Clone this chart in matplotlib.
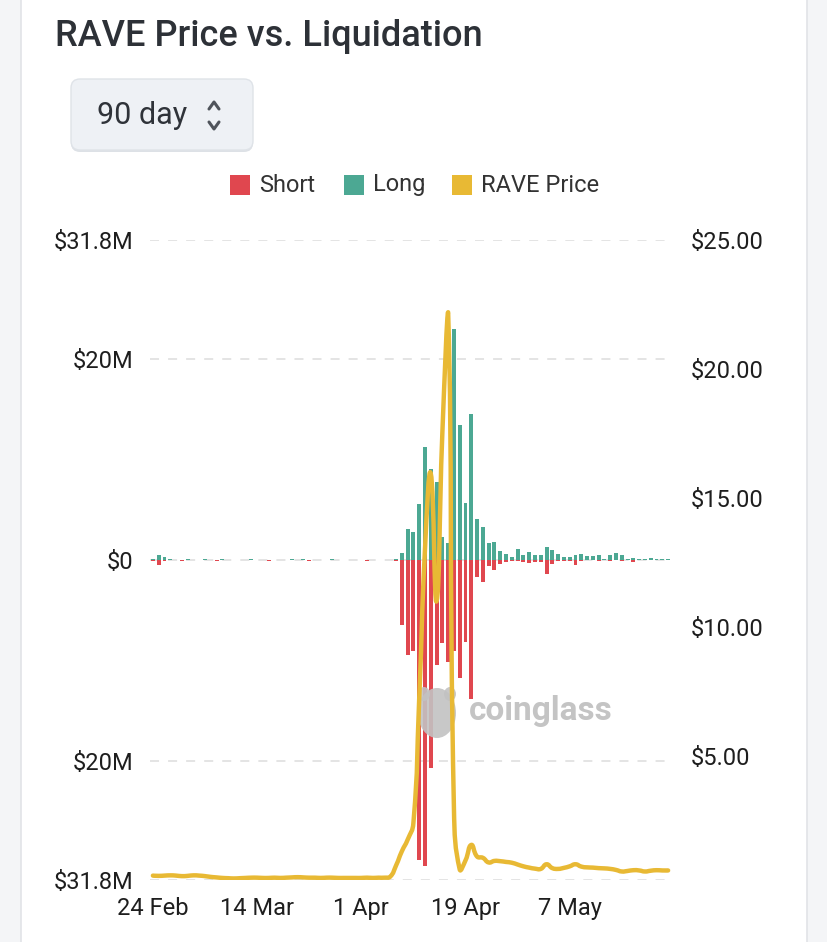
import matplotlib
matplotlib.use("Agg")
import matplotlib.pyplot as plt
from matplotlib.patches import Rectangle, FancyBboxPatch, PathPatch, Ellipse
from matplotlib.path import Path
from matplotlib.lines import Line2D
from matplotlib.transforms import IdentityTransform
import numpy as np
import pandas as pd

plt.rcParams['font.family'] = ['Roboto', 'DejaVu Sans']

# ---- data (liquidations in $M, price in $) ----
days = pd.date_range("2026-02-24", periods=90, freq="D")

long_liq = [0.1, 0.5, 0.3, 0.1,
            0.02, 0.02, 0.05, 0.02, 0.02, 0.08, 0.02, 0.02, 0.12, 0.02,
            0.02, 0.02, 0.02, 0.08, 0.02, 0.02, 0.02, 0.02, 0.02, 0.02,
            0.08, 0.02, 0.12, 0.02, 0.02, 0.02, 0.02, 0.08, 0.02, 0.02,
            0.02, 0.02, 0.02, 0.02, 0.02, 0.02, 0.02, 0.02, 0.08,
            0.7, 3.1, 2.8, 5.6, 11.2, 9.0, 7.8, 2.3, 1.7, 23.0,
            13.4, 5.7, 14.5, 4.1, 3.3, 1.7, 1.8, 0.9, 0.6, 0.25,
            1.1, 0.5, 0.8, 0.5, 0.5, 1.3, 1.0, 0.6, 0.25, 0.25,
            0.45, 0.6, 0.4, 0.35, 0.45, 0.05, 0.5, 0.7, 0.5, 0.1,
            0.15, 0.1, 0.1, 0.15, 0.1, 0.1, 0.1]

short_liq = [0.05, 0.5, 0.1, 0.03,
             0.02, 0.06, 0.02, 0.02, 0.02, 0.02, 0.02, 0.06, 0.02, 0.02,
             0.02, 0.02, 0.02, 0.02, 0.02, 0.02, 0.06, 0.02, 0.02, 0.02,
             0.02, 0.02, 0.02, 0.06, 0.02, 0.02, 0.02, 0.02, 0.02, 0.02,
             0.02, 0.02, 0.02, 0.1, 0.02, 0.02, 0.02, 0.02, 0.06,
             6.5, 9.4, 9.0, 29.8, 30.4, 20.7, 10.4, 8.2, 10.1, 9.0,
             11.7, 8.1, 13.8, 1.7, 2.2, 0.6, 1.0, 0.4, 0.2, 0.1,
             0.1, 0.15, 0.3, 0.15, 0.15, 1.4, 0.4, 0.1, 0.1, 0.1,
             0.5, 0.1, 0.03, 0.03, 0.08, 0.03, 0.08, 0.03, 0.08, 0.03,
             0.2, 0.03, 0.03, 0.03, 0.03, 0.03, 0.03]

price = [0.36, 0.35, 0.36, 0.37, 0.36, 0.34, 0.35, 0.37, 0.36, 0.34,
         0.31, 0.29, 0.27, 0.26, 0.25, 0.26, 0.27, 0.28, 0.28, 0.27,
         0.27, 0.28, 0.27, 0.28, 0.29, 0.30, 0.29, 0.28, 0.28, 0.27,
         0.28, 0.28, 0.27, 0.27, 0.27, 0.27, 0.27, 0.28, 0.27, 0.28,
         0.28, 0.32, 0.75, 1.30, 1.75, 2.40, 7.20, 13.0, 15.95, 11.0,
         17.5, 22.2, 3.0, 0.60, 0.95, 1.55, 1.10, 1.05, 0.87, 0.93,
         0.92, 0.89, 0.86, 0.79, 0.72, 0.67, 0.63, 0.62, 0.80, 0.65,
         0.62, 0.66, 0.72, 0.80, 0.71, 0.68, 0.67, 0.65, 0.64, 0.62,
         0.58, 0.52, 0.54, 0.57, 0.56, 0.52, 0.55, 0.57, 0.56, 0.56]

left_ticks = [-31.8, -20, 0, 20, 31.8]
left_labels = ["$31.8M", "$20M", "$0", "$20M", "$31.8M"]
right_ticks = [5, 10, 15, 20, 25]
right_labels = ["$5.00", "$10.00", "$15.00", "$20.00", "$25.00"]

RED = "#e0474f"
GREEN = "#4ca893"
YELLOW = "#e8b934"
TXT = "#1e1e1e"

W, H = 828, 942
fig = plt.figure(figsize=(W / 100, H / 100), dpi=100, facecolor="#f4f5f7")
PX = IdentityTransform()


def P(x, y):
    # image pixel coords (y down) -> display coords
    return x, H - y


# white card (behind everything)
fig.patches.append(Rectangle(P(21, 945), 786, 950, transform=PX,
                             facecolor="white", edgecolor="#e1e3e7", lw=1.2, zorder=-10))

# title
fig.text(*P(55, 36), "RAVE Price vs. Liquidation", transform=PX, fontsize=26,
         fontweight="medium", color="#2d3137", va="center", ha="left")

# range selector
fig.patches.append(FancyBboxPatch(P(71, 152), 182, 71, boxstyle="round,pad=0,rounding_size=9",
                                  transform=PX, facecolor="#dde1e6", edgecolor="none", zorder=1))
fig.patches.append(FancyBboxPatch(P(71, 150), 182, 71, boxstyle="round,pad=0,rounding_size=9",
                                  transform=PX, facecolor="#eef1f5", edgecolor="#dfe3e8", lw=1, zorder=2))
fig.text(*P(97, 116), "90 day", transform=PX, fontsize=22, color="#2f3339",
         va="center", ha="left", zorder=3)
for ys in [(109, 102, 109), (122, 129, 122)]:
    xs = [209, 214, 219]
    pts = [P(a, b) for a, b in zip(xs, ys)]
    fig.lines.append(Line2D([p[0] for p in pts], [p[1] for p in pts], transform=PX,
                            color="#4f545b", lw=2.2, solid_capstyle="round", zorder=3))

# legend
for x0, col, lab in [(230, RED, "Short"), (344, GREEN, "Long"), (452, YELLOW, "RAVE Price")]:
    fig.patches.append(Rectangle(P(x0, 195), 20, 20, transform=PX, facecolor=col,
                                 edgecolor="none", zorder=2))
    fig.text(*P(x0 + 29, 185), lab, transform=PX, fontsize=17, color="#333333",
             va="center", ha="left")

# ---- plot ----
ax = fig.add_axes([150 / W, 1 - 880 / H, 521 / W, 640 / H])
ax.set_facecolor("none")
x = np.arange(len(days))
ax.bar(x, long_liq, width=0.68, color=GREEN, zorder=2)
ax.bar(x, -np.array(short_liq), width=0.68, color=RED, zorder=2)
ax.set_xlim(-0.5, len(days) - 0.5)
ax.set_ylim(-31.8, 31.8)
for t in left_ticks:
    ax.axhline(t, color="#e2e2e2", lw=1.3, ls=(0, (5, 5)), zorder=0)
ax.set_yticks(left_ticks, left_labels)
tick_idx = np.arange(0, len(days), 18)
ax.set_xticks(tick_idx, [f"{days[i].day} {days[i].strftime('%b')}" for i in tick_idx])
ax.tick_params(axis="y", length=0, pad=12, labelsize=17, labelcolor=TXT)
ax.tick_params(axis="x", length=0, pad=12, labelsize=17, labelcolor=TXT)
for s in ax.spines.values():
    s.set_visible(False)

# watermark
ax.add_patch(Ellipse(P(437, 713), 38, 50, transform=PX, facecolor="#c2c2c2",
                     edgecolor="none", alpha=0.9, zorder=5, clip_on=False))
for ex in (424, 450):
    ax.add_patch(Ellipse(P(ex, 694), 12, 14, transform=PX, facecolor="#c2c2c2",
                         edgecolor="none", alpha=0.9, zorder=5, clip_on=False))
ax.text(*P(469, 711), "coinglass", transform=PX, fontsize=24, fontweight="bold",
        color="#c4c4c4", va="center", ha="left", zorder=5)

ax2 = ax.twinx()
ax2.set_ylim(0.19, 25)
ax2.set_yticks(right_ticks, right_labels)
ax2.tick_params(axis="y", length=0, pad=14, labelsize=17, labelcolor=TXT)
for s in ax2.spines.values():
    s.set_visible(False)

# smoothed price line (bezier through daily points, like the web chart;
# control points kept inside the data's overall range)
pts = ax2.transData.transform(np.column_stack([x, price]))
ylo, yhi = pts[:, 1].min(), pts[:, 1].max()
n = len(pts)
cp_in = pts.copy()
cp_out = pts.copy()
for i in range(1, n - 1):
    v = (pts[i + 1] - pts[i - 1]) * 0.5
    d0 = np.hypot(*(pts[i] - pts[i - 1]))
    d1 = np.hypot(*(pts[i + 1] - pts[i]))
    r = d1 / (d0 + d1)
    cp_out[i] = pts[i] + v * r
    cp_in[i] = pts[i] - v * (1 - r)
cp_in[:, 1] = np.clip(cp_in[:, 1], ylo, yhi)
cp_out[:, 1] = np.clip(cp_out[:, 1], ylo, yhi)
verts = [pts[0]]
codes = [Path.MOVETO]
for i in range(n - 1):
    verts += [cp_out[i], cp_in[i + 1], pts[i + 1]]
    codes += [Path.CURVE4] * 3
verts = ax2.transData.inverted().transform(np.array(verts))
ax2.add_patch(PathPatch(Path(verts, codes), fill=False, edgecolor=YELLOW, lw=3.2,
                        joinstyle="round", capstyle="round", zorder=3))

fig.savefig("out.png", dpi=100, facecolor=fig.get_facecolor())
